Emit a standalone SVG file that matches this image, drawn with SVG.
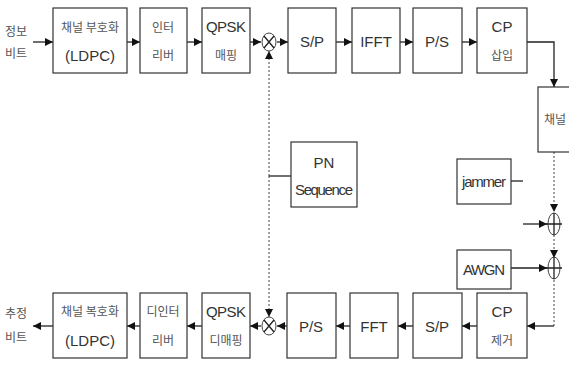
<svg xmlns="http://www.w3.org/2000/svg" width="569" height="368" viewBox="0 0 569 368">
<style>
.box{fill:#fff;stroke:#333;stroke-width:1.2}
.t{font-family:"Liberation Sans","Noto Sans CJK KR",sans-serif;font-size:15px;fill:#333;text-anchor:middle}
.k{font-family:"Noto Sans CJK KR","Liberation Sans",sans-serif;font-size:12px;fill:#555;text-anchor:middle}
.w{fill:none;stroke:#222;stroke-width:1.3}
.d{fill:none;stroke:#444;stroke-width:1;stroke-dasharray:2 2}
.c{fill:#fff;stroke:#444;stroke-width:1}
</style>
<defs>
<marker id="a" viewBox="0 0 10 10" refX="10" refY="5" markerWidth="8" markerHeight="8" markerUnits="userSpaceOnUse" orient="auto"><path d="M0,0L10,5L0,10z" fill="#111"/></marker>
</defs>
<rect width="569" height="368" fill="#fff"/>

<g id="connectors">
<path class="w" d="M33,42H53" marker-end="url(#a)"/>
<path class="w" d="M127,42H140" marker-end="url(#a)"/>
<path class="w" d="M187,42H202" marker-end="url(#a)"/>
<path class="w" d="M250,42H261" marker-end="url(#a)"/>
<path class="w" d="M277,42H288" marker-end="url(#a)"/>
<path class="w" d="M336,42H352" marker-end="url(#a)"/>
<path class="w" d="M400,42H413" marker-end="url(#a)"/>
<path class="w" d="M462,42H477" marker-end="url(#a)"/>
<path class="w" d="M527,42H554V87" marker-end="url(#a)"/>
<path class="d" d="M554,152V212" marker-end="url(#a)"/>
<path class="w" d="M511,181H523"/>
<path class="w" d="M523,224H547" marker-end="url(#a)"/>
<path class="d" d="M554,235V258" marker-end="url(#a)"/>
<path class="w" d="M511,268H547" marker-end="url(#a)"/>
<path class="d" d="M554,280V326"/>
<path class="w" d="M554,326H527" marker-end="url(#a)"/>
<path class="w" d="M477,326H462" marker-end="url(#a)"/>
<path class="w" d="M413,326H398" marker-end="url(#a)"/>
<path class="w" d="M350,326H336" marker-end="url(#a)"/>
<path class="w" d="M287,326H277" marker-end="url(#a)"/>
<path class="w" d="M261,326H250" marker-end="url(#a)"/>
<path class="w" d="M202,326H187" marker-end="url(#a)"/>
<path class="w" d="M140,326H127" marker-end="url(#a)"/>
<path class="w" d="M53,326H33" marker-end="url(#a)"/>
<path class="w" d="M291,176H269"/>
<path class="d" d="M269,176V51" marker-end="url(#a)"/>
<path class="d" d="M269,176V317" marker-end="url(#a)"/>
</g>

<g id="src"><text class="k" x="16" y="36">정보</text><text class="k" x="16" y="58">비트</text></g>
<g id="enc"><rect class="box" x="53" y="8" width="74" height="65"/><text class="k" x="90" y="32">채널 부호화</text><text class="t" x="90" y="61">(LDPC)</text></g>
<g id="intl"><rect class="box" x="140" y="8" width="47" height="65"/><text class="k" x="163" y="32">인터</text><text class="k" x="163" y="60">리버</text></g>
<g id="qpsk"><rect class="box" x="202" y="8" width="48" height="65"/><text class="t" x="226" y="32" textLength="40">QPSK</text><text class="k" x="226" y="60">매핑</text></g>
<g id="mix1"><ellipse class="c" cx="269" cy="42" rx="7" ry="9"/><path class="w" d="M264,36L274,48M274,36L264,48" stroke-width="1"/></g>
<g id="sp1"><rect class="box" x="288" y="8" width="48" height="65"/><text class="t" x="312" y="47">S/P</text></g>
<g id="ifft"><rect class="box" x="352" y="8" width="48" height="65"/><text class="t" x="376" y="47">IFFT</text></g>
<g id="ps1"><rect class="box" x="413" y="8" width="49" height="65"/><text class="t" x="437" y="47">P/S</text></g>
<g id="cpi"><rect class="box" x="477" y="8" width="50" height="65"/><text class="t" x="502" y="32">CP</text><text class="k" x="502" y="60">삽입</text></g>
<g id="ch"><rect class="box" x="538" y="87" width="40" height="65"/><text class="k" x="555" y="124">채널</text></g>
<g id="pn"><rect class="box" x="291" y="142" width="66" height="65"/><text class="t" x="324" y="168">PN</text><text class="t" x="324" y="195" textLength="58">Sequence</text></g>
<g id="jam"><rect class="box" x="457" y="159" width="54" height="45"/><text class="t" x="484" y="187" textLength="44">jammer</text></g>
<g id="add1"><ellipse class="c" cx="554" cy="224" rx="6" ry="11"/><path class="w" d="M546,224H562M554,213V235" stroke-width="1"/></g>
<g id="awgn"><rect class="box" x="457" y="250" width="54" height="39"/><text class="t" x="484" y="275" textLength="42">AWGN</text></g>
<g id="add2"><ellipse class="c" cx="554" cy="268" rx="6" ry="11"/><path class="w" d="M546,268H562M554,257V279" stroke-width="1"/></g>
<g id="cpr"><rect class="box" x="477" y="293" width="50" height="65"/><text class="t" x="502" y="317">CP</text><text class="k" x="502" y="345">제거</text></g>
<g id="sp2"><rect class="box" x="413" y="293" width="49" height="65"/><text class="t" x="437" y="332">S/P</text></g>
<g id="fft"><rect class="box" x="350" y="293" width="48" height="65"/><text class="t" x="374" y="332">FFT</text></g>
<g id="ps2"><rect class="box" x="287" y="293" width="49" height="65"/><text class="t" x="311" y="332">P/S</text></g>
<g id="mix2"><ellipse class="c" cx="269" cy="326" rx="7" ry="9"/><path class="w" d="M264,320L274,332M274,320L264,332" stroke-width="1"/></g>
<g id="qdem"><rect class="box" x="202" y="293" width="48" height="65"/><text class="t" x="226" y="317" textLength="40">QPSK</text><text class="k" x="226" y="345">디매핑</text></g>
<g id="dint"><rect class="box" x="140" y="293" width="47" height="65"/><text class="k" x="163" y="316">디인터</text><text class="k" x="163" y="345">리버</text></g>
<g id="dec"><rect class="box" x="53" y="293" width="74" height="65"/><text class="k" x="90" y="316">채널 복호화</text><text class="t" x="90" y="346">(LDPC)</text></g>
<g id="sink"><text class="k" x="16" y="318">추정</text><text class="k" x="16" y="342">비트</text></g>
</svg>
